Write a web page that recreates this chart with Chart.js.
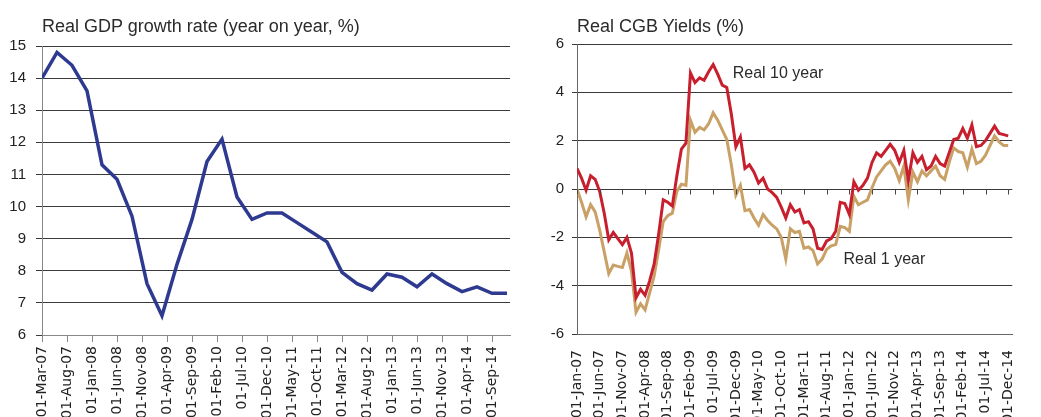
<!DOCTYPE html>
<html>
<head>
<meta charset="utf-8">
<script src="https://cdn.jsdelivr.net/npm/chart.js@4.4.1/dist/chart.umd.min.js"></script>
<style>
  body { margin: 0; background: #fff; }
  #wrap { position: relative; width: 1041px; height: 417px; overflow: hidden; }
  canvas { position: absolute; top: 0; }
  .title { position: absolute; top: 17px; font: 18px 'Liberation Sans', Arial, sans-serif; line-height: 18px; color: #2b2b2b; white-space: nowrap; }
</style>
</head>
<body>
<div id="wrap">
  <canvas id="gdp" width="520" height="417" style="left:0"></canvas>
  <canvas id="cgb" width="521" height="417" style="left:520px"></canvas>
  <div class="title" style="left:42px">Real GDP growth rate (year on year, %)</div>
  <div class="title" style="left:577px">Real CGB Yields (%)</div>
</div>
<script>
'use strict'

// left chart: quarterly real GDP growth, Mar-07 .. Dec-14
var gdpQuarters = ['Mar-07', 'Jun-07', 'Sep-07', 'Dec-07', 'Mar-08', 'Jun-08', 'Sep-08', 'Dec-08',
  'Mar-09', 'Jun-09', 'Sep-09', 'Dec-09', 'Mar-10', 'Jun-10', 'Sep-10', 'Dec-10',
  'Mar-11', 'Jun-11', 'Sep-11', 'Dec-11', 'Mar-12', 'Jun-12', 'Sep-12', 'Dec-12',
  'Mar-13', 'Jun-13', 'Sep-13', 'Dec-13', 'Mar-14', 'Jun-14', 'Sep-14', 'Dec-14'];
var gdpGrowth = [14.0, 14.8, 14.4, 13.6, 11.3, 10.85, 9.7, 7.6,
  6.6, 8.2, 9.6, 11.4, 12.1, 10.3, 9.6, 9.8,
  9.8, 9.5, 9.2, 8.9, 7.95, 7.6, 7.4, 7.9,
  7.8, 7.5, 7.9, 7.6, 7.35, 7.5, 7.3, 7.3];
var gdpTickLabels = ['01-Mar-07', '01-Aug-07', '01-Jan-08', '01-Jun-08', '01-Nov-08', '01-Apr-09',
  '01-Sep-09', '01-Feb-10', '01-Jul-10', '01-Dec-10', '01-May-11', '01-Oct-11', '01-Mar-12',
  '01-Aug-12', '01-Jan-13', '01-Jun-13', '01-Nov-13', '01-Apr-14', '01-Sep-14'];

// right chart: monthly real CGB yields, Jan-07 .. Dec-14
var real10Year = [0.85, 0.45, -0.05, 0.55, 0.4, -0.1, -1.0, -2.1, -1.8, -2.05, -2.3, -2.0,
  -2.65, -4.5, -4.15, -4.4, -3.8, -3.1, -1.85, -0.45, -0.55, -0.7, 0.55, 1.65,
  1.9, 4.8, 4.4, 4.6, 4.5, 4.85, 5.15, 4.75, 4.3, 4.2, 3.1, 1.75,
  2.15, 0.85, 1.0, 0.7, 0.25, 0.45, 0.0, -0.15, -0.35, -0.75, -1.2, -0.65,
  -0.95, -0.85, -1.4, -1.35, -1.65, -2.45, -2.5, -2.15, -2.05, -1.75, -0.55, -0.6,
  -1.05, 0.3, -0.05, 0.15, 0.45, 1.1, 1.5, 1.35, 1.6, 1.85, 1.6, 1.1,
  1.6, 0.35, 1.5, 1.1, 1.35, 0.8, 0.95, 1.35, 1.05, 0.95, 1.5, 2.05,
  2.1, 2.5, 2.1, 2.65, 1.75, 1.8, 2.0, 2.3, 2.6, 2.3, 2.25, 2.2];
var real1Year = [0.0, -0.55, -1.15, -0.65, -0.95, -1.7, -2.6, -3.5, -3.15, -3.2, -3.25, -2.65,
  -3.4, -5.1, -4.75, -5.0, -4.3, -3.6, -2.5, -1.35, -1.1, -1.0, -0.1, 0.2,
  0.15, 2.85, 2.35, 2.55, 2.45, 2.7, 3.15, 2.85, 2.45, 2.05, 1.0, -0.25,
  0.15, -0.9, -0.85, -1.2, -1.5, -1.05, -1.3, -1.5, -1.65, -2.0, -2.9, -1.65,
  -1.8, -1.75, -2.45, -2.4, -2.55, -3.1, -2.9, -2.5, -2.35, -2.3, -1.55, -1.6,
  -1.75, -0.3, -0.65, -0.55, -0.45, 0.05, 0.5, 0.75, 1.0, 1.15, 0.85, 0.35,
  0.95, -0.45, 0.7, 0.3, 0.75, 0.55, 0.75, 0.95, 0.55, 0.4, 1.1, 1.7,
  1.55, 1.5, 0.9, 1.65, 1.05, 1.15, 1.4, 1.8, 2.2, 1.95, 1.8, 1.8];
var cgbTickLabels = ['01-Jan-07', '01-Jun-07', '01-Nov-07', '01-Apr-08', '01-Sep-08', '01-Feb-09',
  '01-Jul-09', '01-Dec-09', '01-May-10', '01-Oct-10', '01-Mar-11', '01-Aug-11', '01-Jan-12',
  '01-Jun-12', '01-Nov-12', '01-Apr-13', '01-Sep-13', '01-Feb-14', '01-Jul-14', '01-Dec-14'];

// line labels, in data units (months from Jan-07, yield)
var noteTexts = ['Real 10 year', 'Real 1 year'];
var noteMonths = [34.3, 58.7];
var noteValues = [4.77, -2.92];

Chart.defaults.font.family = "'Liberation Sans', Arial, sans-serif";
Chart.defaults.color = '#222';

var tickFont = { family: "'DejaVu Sans', Verdana, sans-serif", size: 14 };

// ticks every 5 months, labels from the arrays above
function monthTicks(labels) {
  return function(scale) {
    scale.ticks = labels.map(function(l, i) { return { value: i * 5 }; });
  };
}

var gdpChart = new Chart(document.getElementById('gdp'), {
  type: 'line',
  data: {
    datasets: [{
      label: 'Real GDP growth',
      data: gdpGrowth.map(function(v, i) { return { x: i * 3, y: v }; }),
      borderColor: '#2e3990',
      borderWidth: 3.5,
      pointRadius: 0,
      tension: 0
    }]
  },
  options: {
    responsive: false,
    animation: false,
    devicePixelRatio: 1,
    layout: { padding: { top: 46, right: 10, left: 0, bottom: 0 } },
    plugins: { legend: { display: false }, tooltip: { enabled: false } },
    scales: {
      x: {
        type: 'linear',
        min: 0,
        max: 93.6,
        afterBuildTicks: monthTicks(gdpTickLabels),
        afterFit: function(s) { s.height = 82; },
        grid: { drawOnChartArea: false, tickLength: 7, color: '#888' },
        border: { color: '#888' },
        ticks: {
          autoSkip: false, minRotation: 90, maxRotation: 90, padding: 4,
          font: tickFont,
          callback: function(v, i) { return gdpTickLabels[i]; }
        }
      },
      y: {
        min: 6,
        max: 15,
        afterFit: function(s) { s.width = 42; },
        grid: { color: '#3a3a3a', tickLength: 6 },
        border: { color: '#888' },
        ticks: { stepSize: 1, padding: 10, font: { size: 15 } }
      }
    }
  }
});

// the axis crosses at 0 in the yield chart: small tick marks on that line, plus the two line labels
var cgbExtras = {
  id: 'cgbExtras',
  afterDatasetsDraw: function(chart) {
    var ctx = chart.ctx;
    var xs = chart.scales.x;
    var ys = chart.scales.y;
    var y0 = Math.round(ys.getPixelForValue(0)) + 0.5;
    ctx.save();
    ctx.strokeStyle = '#444';
    ctx.lineWidth = 1;
    ctx.beginPath();
    for (var t = 0; t < xs.ticks.length; t++) {
      var px = Math.round(xs.getPixelForValue(xs.ticks[t].value)) + 0.5;
      ctx.moveTo(px, y0);
      ctx.lineTo(px, y0 + 5);
    }
    ctx.stroke();

    ctx.font = "16px 'Liberation Sans', Arial, sans-serif";
    ctx.fillStyle = '#2b2b2b';
    ctx.textAlign = 'left';
    ctx.textBaseline = 'middle';
    for (var i = 0; i < noteTexts.length; i++) {
      ctx.fillText(noteTexts[i], xs.getPixelForValue(noteMonths[i]), ys.getPixelForValue(noteValues[i]));
    }
    ctx.restore();
  }
};

var cgbChart = new Chart(document.getElementById('cgb'), {
  type: 'line',
  data: {
    datasets: [{
      label: 'Real 10 year',
      data: real10Year.map(function(v, i) { return { x: i, y: v }; }),
      borderColor: '#c81f2e',
      borderWidth: 3,
      pointRadius: 0,
      tension: 0
    }, {
      label: 'Real 1 year',
      data: real1Year.map(function(v, i) { return { x: i, y: v }; }),
      borderColor: '#c9a066',
      borderWidth: 3,
      pointRadius: 0,
      tension: 0
    }]
  },
  options: {
    responsive: false,
    animation: false,
    devicePixelRatio: 1,
    layout: { padding: { top: 44, right: 0, left: 0, bottom: 0 } },
    plugins: { legend: { display: false }, tooltip: { enabled: false } },
    scales: {
      x: {
        type: 'linear',
        min: 0,
        max: 95.9,
        afterBuildTicks: monthTicks(cgbTickLabels),
        afterFit: function(s) { s.height = 83; },
        grid: { drawOnChartArea: false, drawTicks: false },
        border: { color: '#666' },
        ticks: {
          autoSkip: false, minRotation: 90, maxRotation: 90, padding: 16,
          font: tickFont,
          callback: function(v, i) { return cgbTickLabels[i]; }
        }
      },
      y: {
        min: -6,
        max: 6,
        afterFit: function(s) { s.width = 57; },
        grid: { color: '#3a3a3a', tickLength: 5 },
        border: { color: '#666' },
        ticks: { stepSize: 2, padding: 8, font: { size: 15 } }
      }
    }
  },
  plugins: [cgbExtras]
});
</script>
</body>
</html>
